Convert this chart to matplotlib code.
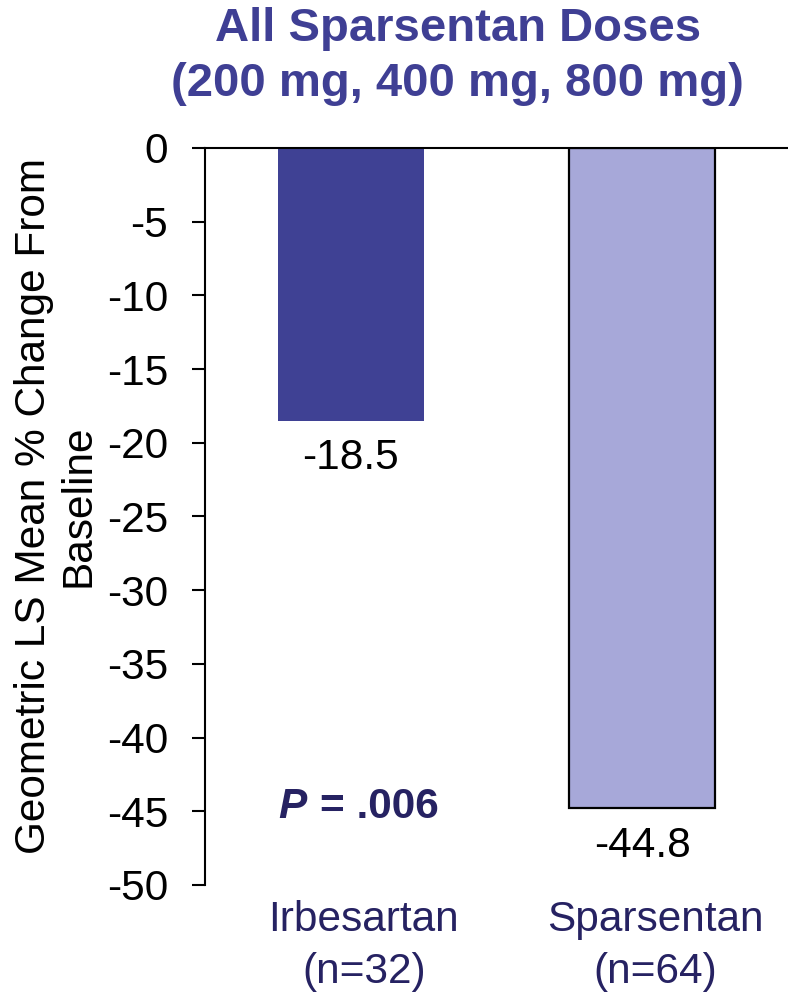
import matplotlib
matplotlib.use('Agg')
import matplotlib.pyplot as plt

plt.rcParams['font.family'] = ['Liberation Sans', 'DejaVu Sans']

groups = ['Irbesartan\n(n=32)', 'Sparsentan\n(n=64)']
values = [-18.5, -44.8]
value_labels = ['-18.5', '-44.8']
y_ticks = [0, -5, -10, -15, -20, -25, -30, -35, -40, -45, -50]
p_text = '= .006'

title_col = '#3F3F94'
navy = '#262262'
bar_cols = ['#3F4194', '#A7A8D9']
fs = 30.5

fig = plt.figure(figsize=(7.88, 9.93), dpi=100)
ax = fig.add_axes([0.260, 0.1088, 0.740, 0.7422])

x = list(range(len(groups)))
bars = ax.bar(x, values, width=0.5, color=bar_cols, zorder=2)
bars[1].set_edgecolor('black')
bars[1].set_linewidth(1.6)

ax.set_xlim(-0.5, 1.5)
ax.set_ylim(-50, 0)
ax.set_yticks(y_ticks)
ax.set_yticklabels([str(v) for v in y_ticks])
# category labels sit a little right of the bar centres in the original
ax.set_xticks([xi + 0.045 for xi in x])
ax.set_xticklabels(groups, color=navy, fontsize=fs, linespacing=1.38)

ax.spines['bottom'].set_visible(False)
ax.spines['right'].set_visible(False)
ax.spines['top'].set_linewidth(1.5)
ax.spines['left'].set_linewidth(1.5)
ax.tick_params(axis='y', length=9.5, width=1.5, pad=17, labelsize=fs)
ax.tick_params(axis='x', length=0, pad=11)

ax.set_ylabel('Geometric LS Mean % Change From\nBaseline', fontsize=fs, linespacing=1.15)
ax.yaxis.set_label_coords(-0.183, 0.514)

for xi, v, s in zip(x, values, value_labels):
    ax.annotate(s, (xi, v), xytext=(0, -27), textcoords='offset points',
                ha='center', va='center', fontsize=fs, color='black')

# P value
ax.text(-0.150, -44.7, 'P', ha='right', va='center', fontsize=fs,
        fontweight='bold', fontstyle='italic', color=navy)
ax.text(-0.105, -44.7, p_text, ha='left', va='center', fontsize=fs,
        fontweight='bold', color=navy)

fig.text(0.581, 0.943, 'All Sparsentan Doses\n(200 mg, 400 mg, 800 mg)',
         ha='center', va='center', fontsize=34, fontweight='bold',
         color=title_col, linespacing=1.32)

fig.savefig('out.png', dpi=100)
